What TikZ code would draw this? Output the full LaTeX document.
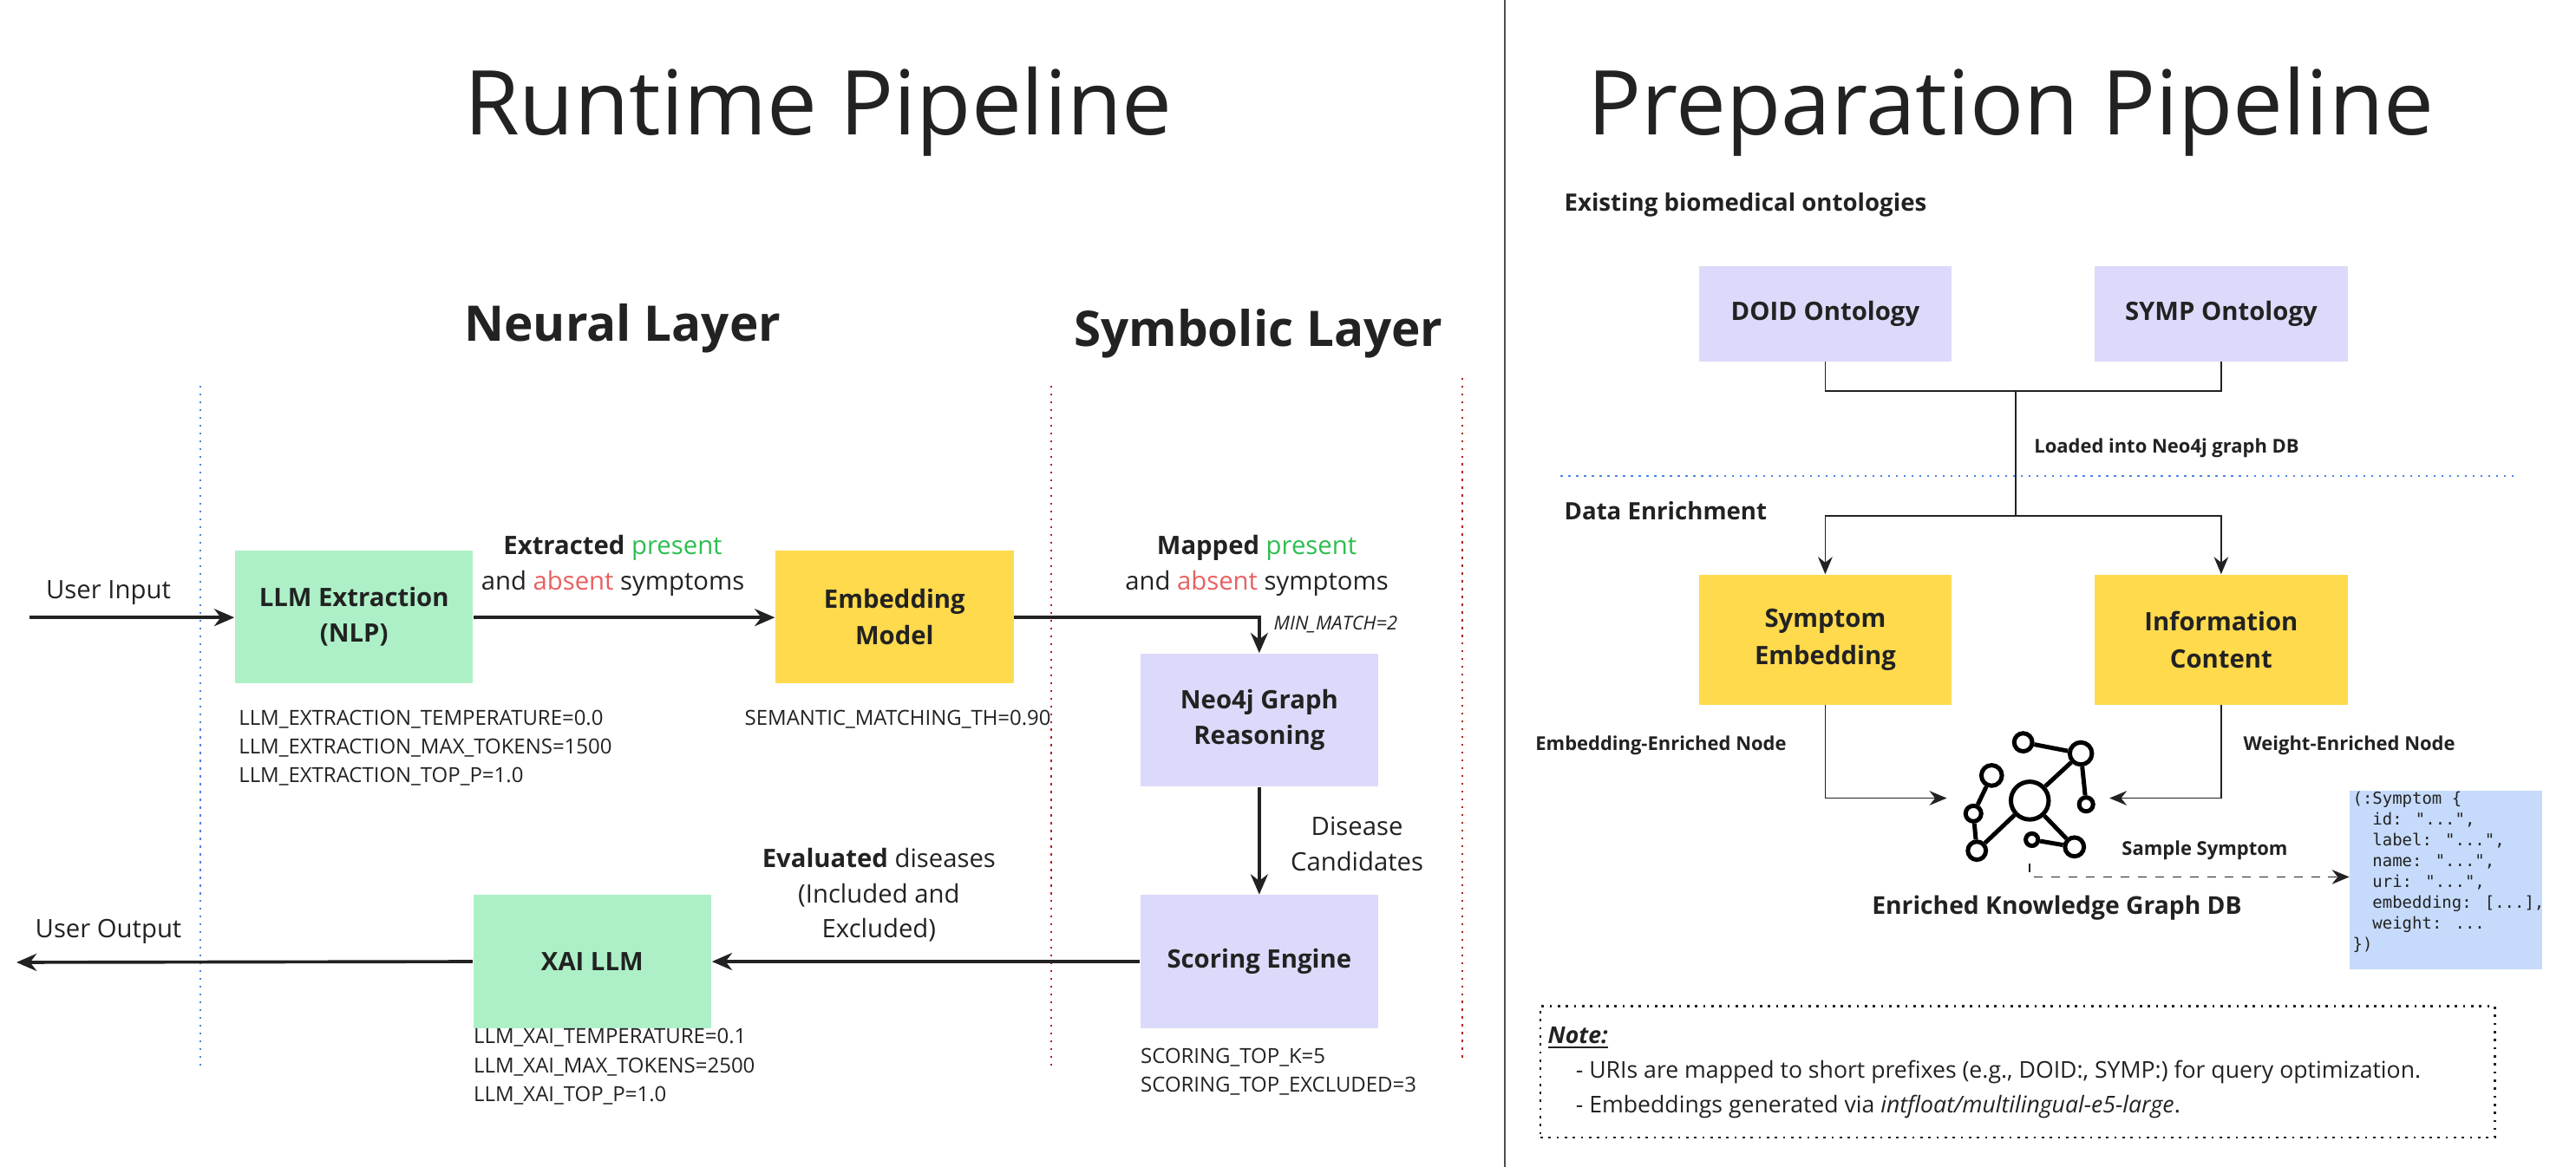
\documentclass[tikz,border=0pt]{standalone}
\usepackage{fontspec}
\setmainfont{Open Sans}
\newfontfamily\codefont{DejaVu Sans Mono}
\usetikzlibrary{arrows.meta}
\definecolor{cgreen}{HTML}{ADF0C7}
\definecolor{cyellow}{HTML}{FFDA4D}
\definecolor{clav}{HTML}{DCDAFA}
\definecolor{ccode}{HTML}{C6DBFB}
\definecolor{tgreen}{HTML}{2DBE4F}
\definecolor{tred}{HTML}{E86060}
\definecolor{ink}{HTML}{222222}
\definecolor{dred}{HTML}{B22222}
\definecolor{dblue}{HTML}{4A86E8}
\tikzset{
 box/.style={draw=none,minimum width=2.9cm,minimum height=1.62cm,align=center,font=\fontsize{8.8}{12.5}\selectfont\bfseries,text=ink},
 rbox/.style={draw=none,minimum width=3.08cm,align=center,font=\fontsize{8.8}{12.8}\selectfont\bfseries,text=ink},
 arr/.style={draw=ink,line width=1.1pt,-{Stealth[length=7pt,width=6pt]}},
 ln/.style={draw=ink,line width=0.5pt},
 larr/.style={draw=ink,line width=0.5pt,-{Stealth[length=6pt,width=5pt]}},
 lbl/.style={font=\fontsize{8.8}{12.2}\selectfont,text=ink,align=center},
 par/.style={font=\fontsize{7.2}{10}\selectfont,text=ink,align=left,anchor=north west,inner sep=0pt},
 sm/.style={font=\fontsize{6.6}{8}\selectfont\bfseries,text=ink},
 gn/.style={circle,draw=black,line width=1.5pt,inner sep=0pt},
 ge/.style={draw=black,line width=1.5pt},
}
\begin{document}
\begin{tikzpicture}[x=0.02cm,y=-0.02cm]
\useasboundingbox[fill=white] (0,0) rectangle (1568,710.6);
% divider
\draw[ink!80,line width=0.8pt] (916,0) -- (916,710.6);
% titles
\node[font=\fontsize{31}{34}\selectfont,text=ink] (t1) at (498,68) {Runtime Pipeline};
\node[font=\fontsize{31}{34}\selectfont,text=ink] (t2) at (1224,68) {Preparation Pipeline};
\node[font=\fontsize{17}{20}\selectfont\bfseries,text=ink] (nl) at (379,200) {Neural Layer};
\node[font=\fontsize{17}{20}\selectfont\bfseries,text=ink] (sl) at (766,203) {Symbolic Layer};
% dotted layer lines
\draw[dblue,dotted,line width=0.7pt] (122,235) -- (122,650);
\draw[dred,dotted,line width=0.7pt] (640,235) -- (640,650);
\draw[dred,dotted,line width=0.7pt] (890,230) -- (890,645);
% boxes
\node[box,fill=cgreen] (llm) at (215.5,375.5) {LLM Extraction\\(NLP)};
\node[box,fill=cyellow] (emb) at (544.5,375.5) {Embedding\\Model};
\node[box,fill=clav] (neo) at (766.5,438.5) {Neo4j Graph\\Reasoning};
\node[box,fill=clav] (sc) at (766.5,585.5) {Scoring Engine};
\node[box,fill=cgreen] (xai) at (360.5,585.5) {XAI LLM};
% connectors
\coordinate (uin) at (18,376);
\coordinate (uout) at (10,586);
\draw[arr] (uin) -- (llm.west |- uin);
\node[lbl] (uil) at (66,361) {User Input};
\draw[arr] (llm.east |- uin) -- (emb.west |- uin);
\node[lbl] (ex) at (373,344.5) {\textbf{Extracted} \textcolor{tgreen}{present}\\and \textcolor{tred}{absent} symptoms};
\draw[arr] (emb.east |- uin) -| (neo.north);
\node[lbl] (mp) at (765,344.5) {\textbf{Mapped} \textcolor{tgreen}{present}\\and \textcolor{tred}{absent} symptoms};
\node[font=\fontsize{6.6}{8}\selectfont\itshape,text=ink] (mm) at (813,380) {MIN\_MATCH=2};
\draw[arr] (neo.south) -- (sc.north);
\node[lbl] (dc) at (826,514) {Disease\\Candidates};
\draw[arr] (sc.west) -- (xai.east);
\node[lbl] (ev) at (535,545) {\textbf{Evaluated} diseases\\(Included and\\Excluded)};
\draw[arr] (xai.west) -- (uout);
\node[lbl] (uol) at (66,567) {User Output};
% params
\node[par] (p1) at (145,432) {LLM\_EXTRACTION\_TEMPERATURE=0.0\\LLM\_EXTRACTION\_MAX\_TOKENS=1500\\LLM\_EXTRACTION\_TOP\_P=1.0};
\node[par] (p2) at (453,432) {SEMANTIC\_MATCHING\_TH=0.90};
\node[par] (p3) at (288,626) {LLM\_XAI\_TEMPERATURE=0.1\\LLM\_XAI\_MAX\_TOKENS=2500\\LLM\_XAI\_TOP\_P=1.0};
\node[par] (p4) at (694,638) {SCORING\_TOP\_K=5\\SCORING\_TOP\_EXCLUDED=3};
% right side
\node[font=\fontsize{8.3}{10}\selectfont\bfseries,text=ink,anchor=west] (ebo) at (946,125) {Existing biomedical ontologies};
\node[rbox,fill=clav,minimum height=1.16cm] (doid) at (1111,191) {DOID Ontology};
\node[rbox,fill=clav,minimum height=1.16cm] (symp) at (1352,191) {SYMP Ontology};
\coordinate (j1) at (1227,238);
\coordinate (j2) at (1227,314);
\draw[ln] (doid.south) |- (j1) -| (symp.south);
\draw[ln] (j1) -- (j2);
\node[sm,anchor=west] (ld) at (1232,273) {Loaded into Neo4j graph DB};
\draw[dblue,dotted,line width=0.7pt] (950,290) -- (1530,290);
\node[font=\fontsize{8.3}{10}\selectfont\bfseries,text=ink,anchor=west] (de) at (946,311) {Data Enrichment};
\node[rbox,fill=cyellow,minimum height=1.58cm] (se) at (1111,389.5) {Symptom\\Embedding};
\node[rbox,fill=cyellow,minimum height=1.58cm] (ic) at (1352,389.5) {Information\\Content};
\draw[larr] (j2) -| (se.north);
\draw[larr] (j2) -| (ic.north);
% graph icon
\node[gn,minimum size=0.46cm] (gbig) at (1235.5,487.5) {};
\node[gn,minimum size=0.22cm] (ga) at (1231.5,452) {};
\node[gn,minimum size=0.27cm] (gb) at (1266.6,458.8) {};
\node[gn,minimum size=0.25cm] (gc) at (1212.3,472.2) {};
\node[gn,minimum size=0.19cm] (gd) at (1201.2,495.4) {};
\node[gn,minimum size=0.17cm] (ge) at (1269.8,489.8) {};
\node[gn,minimum size=0.22cm] (gf) at (1203.3,518) {};
\node[gn,minimum size=0.15cm] (gg) at (1236.8,511.3) {};
\node[gn,minimum size=0.23cm] (gh) at (1262.7,515.7) {};
\draw[ge] (ga) -- (gb); \draw[ge] (gb) -- (gbig); \draw[ge] (gb) -- (ge);
\draw[ge] (gc) -- (gd); \draw[ge] (gd) -- (gf); \draw[ge] (gf) -- (gbig);
\draw[ge] (gbig) -- (gh); \draw[ge] (gg) -- (gh);
\coordinate (il) at (1185,486);
\coordinate (ir) at (1284,486);
\draw[larr] (se.south) |- (il);
\draw[larr] (ic.south) |- (ir);
\node[sm] (een) at (1011,454) {Embedding-Enriched Node};
\node[sm] (wen) at (1430,454) {Weight-Enriched Node};
\node[font=\fontsize{8.5}{10}\selectfont\bfseries,text=ink] (ekg) at (1252,553) {Enriched Knowledge Graph DB};
% code box
\node[fill=ccode,anchor=north west,minimum width=2.34cm,minimum height=2.18cm,inner sep=0pt] (code) at (1430,481) {};
\node[anchor=north west,inner sep=1pt,align=left,text=ink,font=\codefont\fontsize{5.7}{7.2}\selectfont] (codetxt) at (1430,480) {(:Symptom \{\\
\ \ id: "...",\\
\ \ label: "...",\\
\ \ name: "...",\\
\ \ uri: "...",\\
\ \ embedding: [...],\\
\ \ weight: ...\\
\})};
\coordinate (ds) at (1235.5,526);
\draw[ink,line width=0.5pt,dashed,-{Stealth[length=6pt,width=5pt]}] (ds) |- (code.west |- 0,534);
\node[sm] (ss) at (1342,518) {Sample Symptom};
% note
\node[draw=ink,dotted,line width=0.8pt,anchor=north west,minimum width=11.62cm,minimum height=1.6cm,inner sep=0pt] (note) at (937,612) {};
\node[anchor=west,font=\fontsize{8}{10}\selectfont\bfseries\itshape,text=ink] (nt) at (936,632) {\underline{Note:}};
\node[anchor=west,font=\fontsize{8}{10}\selectfont,text=ink] (n1) at (953,653) {- URIs are mapped to short prefixes (e.g., DOID:, SYMP:) for query optimization.};
\node[anchor=west,font=\fontsize{8}{10}\selectfont,text=ink] (n2) at (953,674) {- Embeddings generated via \textit{intfloat/multilingual-e5-large}.};
\end{tikzpicture}
\end{document}
